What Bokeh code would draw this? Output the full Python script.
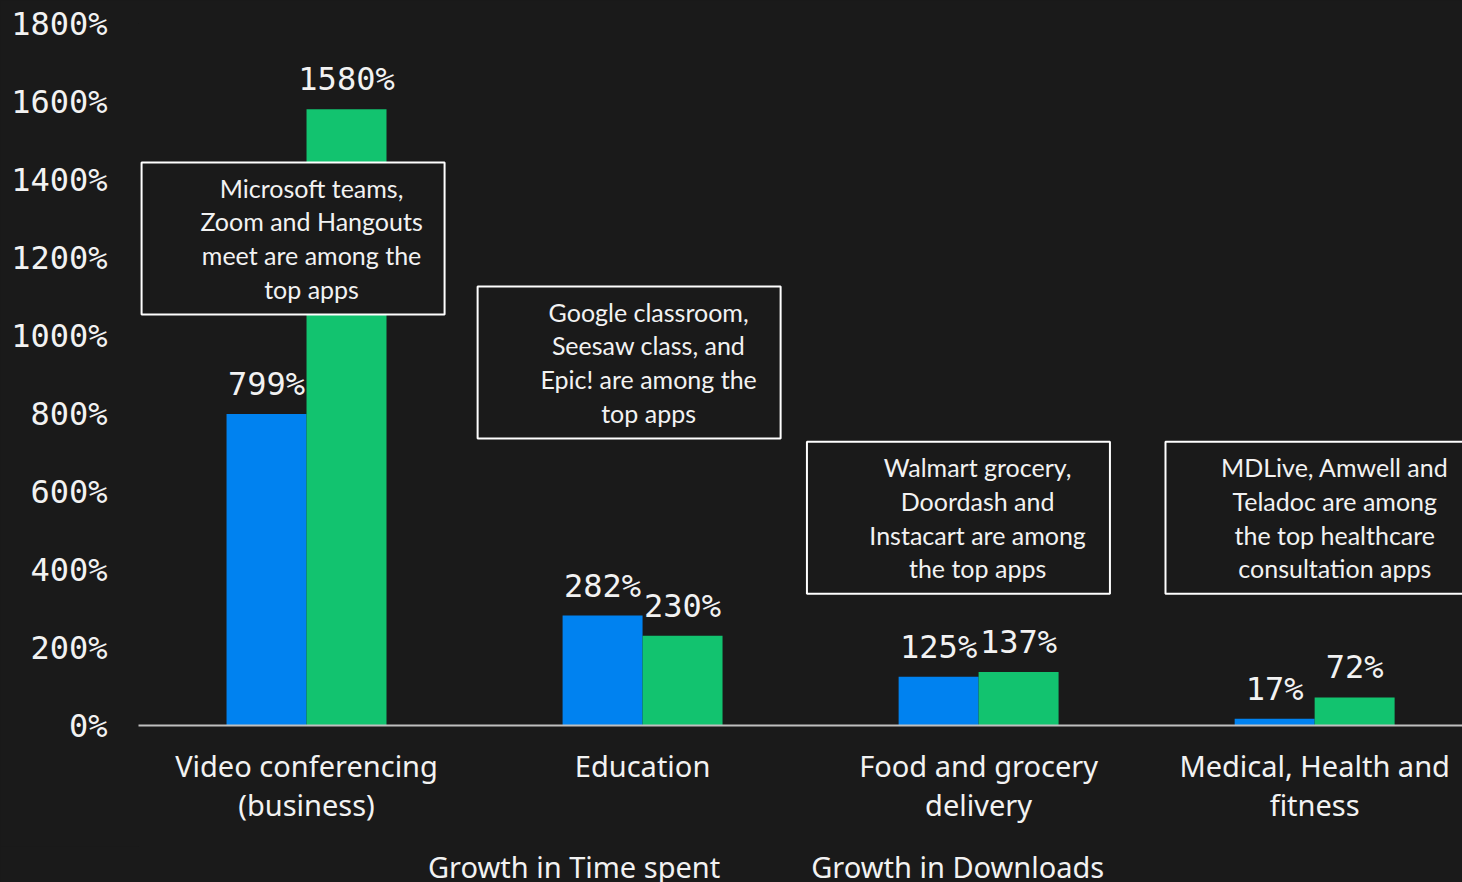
from bokeh.plotting import figure
from bokeh.layouts import column
from bokeh.models import (Range1d, FixedTicker, PrintfTickFormatter, Legend, LegendItem,
                          ColumnDataSource)
from bokeh.core.properties import value
from bokeh.embed import file_html
from bokeh.resources import INLINE

# ---- data ----
categories = ["Video conferencing\n(business)", "Education",
              "Food and grocery\ndelivery", "Medical, Health and\nfitness"]
time_spent = [799, 282, 125, 17]
downloads = [1580, 230, 137, 72]
series_names = ["Growth in Time spent", "Growth in Downloads"]
notes = ["Microsoft teams,\nZoom and Hangouts\nmeet are among the\ntop apps",
         "Google classroom,\nSeesaw class, and\nEpic! are among the\ntop apps",
         "Walmart grocery,\nDoordash and\nInstacart are among\nthe top apps",
         "MDLive, Amwell and\nTeladoc are among\nthe top healthcare\nconsultation apps"]
y_ticks = [0, 200, 400, 600, 800, 1000, 1200, 1400, 1600, 1800]

# ---- layout / style ----
BG = "#1a1a1a"
BLUE = "#0082f0"
GREEN = "#12c36f"
WHITE = "#f2f2f2"
BAR_W = 0.238
note_box_x = [-0.04, 0.96, 1.94, 3.007]
note_box_y = [1249, 931, 533, 533]
note_txt_x = [0.015, 1.018, 1.997, 3.06]

p = figure(frame_width=1324, frame_height=702, output_backend="svg", toolbar_location=None,
           x_range=Range1d(-0.5, 3.44), y_range=Range1d(0, 1800),
           min_border_left=138, min_border_top=23, min_border_right=0,
           min_border_bottom=121)
p.background_fill_color = BG
p.border_fill_color = BG
p.outline_line_color = None
p.grid.visible = False

idx = list(range(len(categories)))
src_t = ColumnDataSource(dict(x=[i - BAR_W / 2 for i in idx], top=time_spent,
                              lab=[f"{v}%" for v in time_spent]))
src_d = ColumnDataSource(dict(x=[i + BAR_W / 2 for i in idx], top=downloads,
                              lab=[f"{v}%" for v in downloads]))
r1 = p.vbar(x="x", top="top", width=BAR_W, source=src_t, fill_color=BLUE, line_color=None)
r2 = p.vbar(x="x", top="top", width=BAR_W, source=src_d, fill_color=GREEN, line_color=None)

for s in (src_t, src_d):
    p.text(x="x", y="top", text="lab", source=s, text_align="center",
           text_baseline="middle", y_offset=-30, text_color=WHITE,
           text_font=value("DejaVu Sans Mono"), text_font_size="32px")

# annotation boxes
p.rect(x=note_box_x, y=note_box_y, width=303, height=152, width_units="screen",
       height_units="screen", fill_color=BG, line_color="white", line_width=2)
p.text(x=note_txt_x, y=note_box_y, text=notes, text_align="center",
       text_baseline="middle", text_color=WHITE, text_font=value("Lato"),
       text_font_size="25px", text_line_height=1.13)

# axes
xa = p.xaxis[0]
xa.ticker = FixedTicker(ticks=idx)
xa.major_label_overrides = {i: c for i, c in zip(idx, categories)}
xa.major_tick_line_color = None
xa.minor_tick_line_color = None
xa.axis_line_color = "#bfbfbf"
xa.axis_line_width = 2
xa.major_label_text_color = WHITE
xa.major_label_text_font = "Noto Sans"
xa.major_label_text_font_size = "29px"
xa.major_label_text_line_height = 1.0
xa.major_label_standoff = 14

ya = p.yaxis[0]
ya.ticker = FixedTicker(ticks=y_ticks)
ya.formatter = PrintfTickFormatter(format="%d%%")
ya.major_tick_line_color = None
ya.minor_tick_line_color = None
ya.axis_line_color = None
ya.major_label_text_color = WHITE
ya.major_label_text_font = "DejaVu Sans Mono"
ya.major_label_text_font_size = "32px"
ya.major_label_standoff = 25

# legend strip (separate figure below the chart, frame aligned with the chart)
lg = figure(frame_width=1324, frame_height=36, output_backend="svg", toolbar_location=None,
            x_range=Range1d(-0.5, 3.44), y_range=Range1d(0, 1800),
            x_axis_location=None, y_axis_location=None,
            min_border_left=138, min_border_right=0, min_border_top=0, min_border_bottom=0)
lg.background_fill_color = BG
lg.border_fill_color = BG
lg.outline_line_color = None
lg.grid.visible = False
k1 = lg.vbar(x="x", top="top", width=BAR_W, source=src_t, fill_color=BLUE, line_color=None,
             fill_alpha=0)
k2 = lg.vbar(x="x", top="top", width=BAR_W, source=src_d, fill_color=GREEN, line_color=None,
             fill_alpha=0)

legend = Legend(items=[LegendItem(label=series_names[0], renderers=[r1]),
                       LegendItem(label=series_names[1], renderers=[r2])],
                orientation="horizontal", location=(265, -4))
legend.background_fill_alpha = 0
legend.border_line_color = None
legend.label_text_color = WHITE
legend.label_text_font = "Noto Sans"
legend.label_text_font_size = "29px"
legend.glyph_width = 17
legend.glyph_height = 17
legend.label_standoff = 8
legend.spacing = 66
legend.padding = 0
legend.margin = 0
lg.add_layout(legend)

layout = column(p, lg, spacing=0)
layout.background = BG
open("out.html", "w").write(file_html(layout, INLINE))
